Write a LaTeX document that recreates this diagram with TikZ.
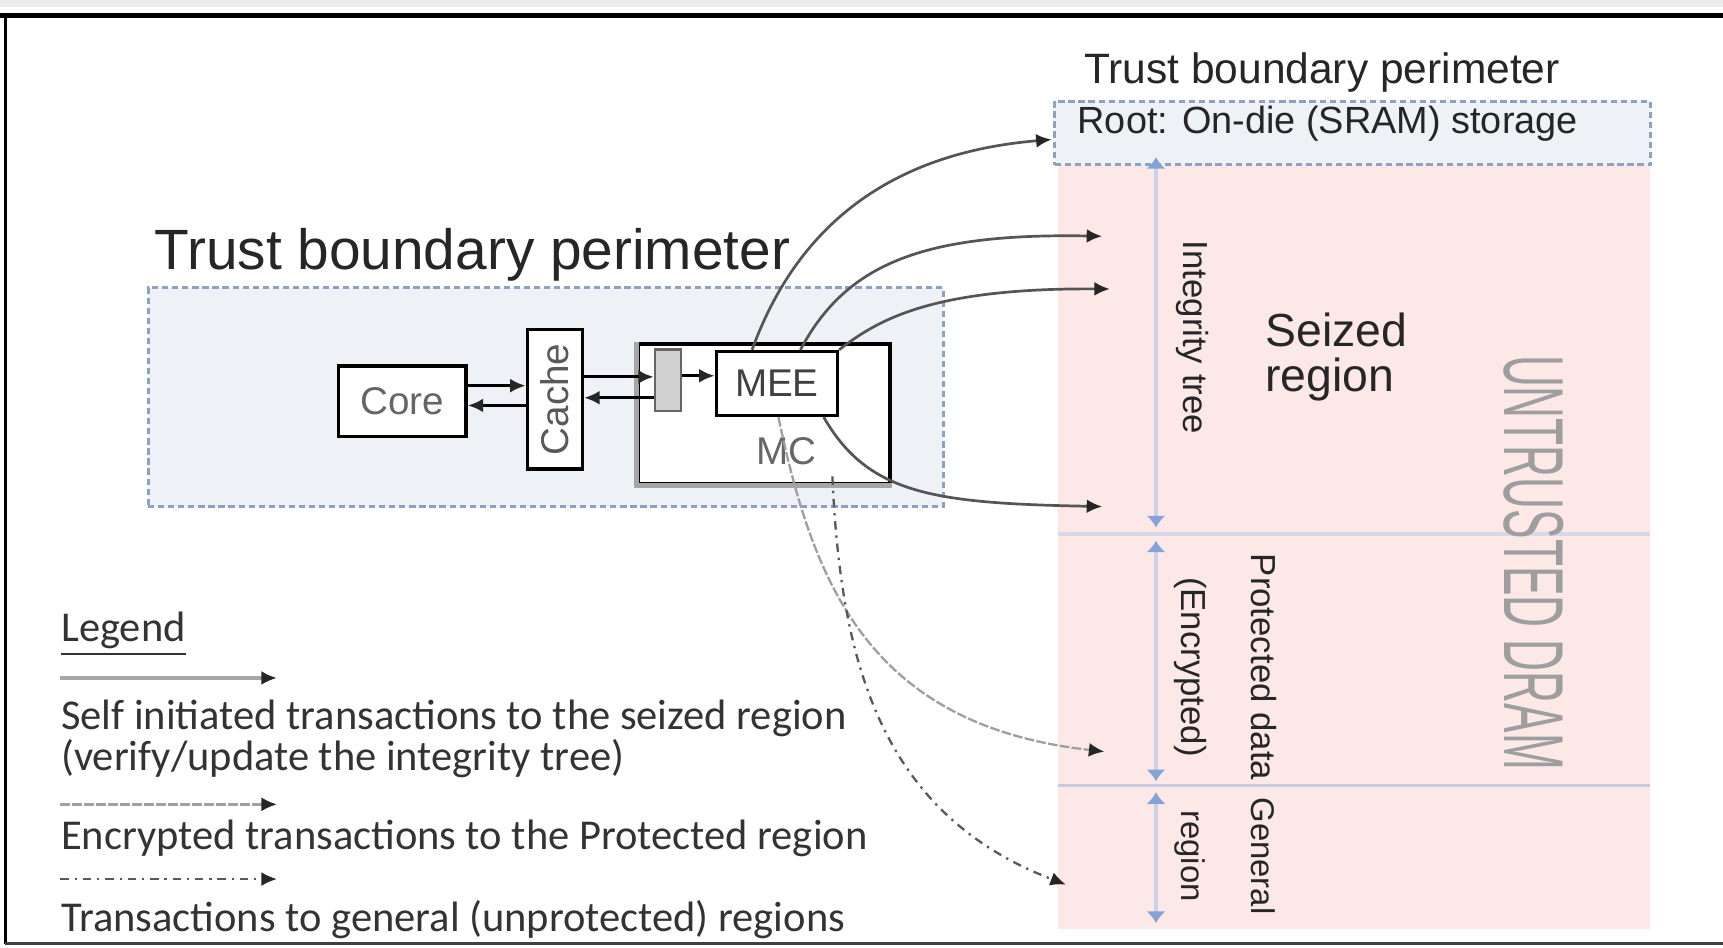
\documentclass[tikz,border=0pt]{standalone}
\usepackage{fontspec}
\setmainfont{Liberation Sans}
\newfontfamily\legendfont{Carlito}
\usetikzlibrary{arrows.meta,calc}

\definecolor{trustfill}{HTML}{EEF2F7}
\definecolor{trustedge}{HTML}{8DA2C0}
\definecolor{dramfill}{HTML}{FDE8E8}
\definecolor{dimline}{HTML}{CBD1E6}
\definecolor{dimtip}{HTML}{85A3D6}
\definecolor{sepA}{HTML}{DAD8E6}
\definecolor{sepB}{HTML}{C4CAE0}
\definecolor{wire}{HTML}{555555}
\definecolor{legendtext}{HTML}{333333}

\tikzset{
  trustbox/.style={draw=trustedge, fill=trustfill, line width=0.8pt,
    dash pattern=on 1.6pt off 1pt, inner sep=0pt},
  unit/.style={draw=black, fill=white, line width=0.9pt, inner sep=0pt},
  unitlabel/.style={font=\fontsize{10}{12}\selectfont, inner sep=0pt},
  tipend/.style={-{Latex[length=4pt,width=3.6pt,color=black!85]}},
  busarrow/.style={tipend, draw=black, line width=0.8pt},
  selfarrow/.style={tipend, draw=wire, line width=0.7pt},
  encarrow/.style={tipend, draw=gray!75, line width=0.6pt, dash pattern=on 2.5pt off 0.6pt},
  genarrow/.style={tipend, draw=gray!70!black, line width=0.6pt,
    dash pattern=on 2.2pt off 1.5pt on 0.6pt off 1.5pt},
  legself/.style={tipend, draw=gray!70, line width=1.2pt},
  dimarrow/.style={draw=dimline, line width=0.8pt,
    {Latex[length=3pt,width=5pt,color=dimtip]}-{Latex[length=3pt,width=5pt,color=dimtip]}},
  regiontext/.style={font=\fontsize{9}{18}\selectfont, text=black!85, align=center, inner sep=0pt},
  smallregiontext/.style={font=\fontsize{8.5}{18}\selectfont, text=black!85, align=center, inner sep=0pt},
  legendline/.style={font=\legendfont\fontsize{11}{13}\selectfont, text=legendtext,
    anchor=west, inner sep=0pt},
}

\begin{document}
\begin{tikzpicture}[x=0.01cm, y=-0.01cm]
\useasboundingbox (0,0) rectangle (1568,862);

% outer frame
\fill[gray!15] (0,0) rectangle (1568,6);
\draw[line width=1.4pt] (0,14) -- (1568,14);
\draw[line width=0.9pt] (5,14) -- (5,859);
\draw[line width=0.8pt, black!75] (5,859) -- (1568,859);

% ---------- on-chip trust boundary ----------
\node[anchor=west, inner sep=0pt, font=\fontsize{14.7}{16}\selectfont, text=black!85]
  (titleleft) at (140,232) {Trust boundary perimeter};
\node[trustbox, minimum width=7.23cm, minimum height=1.99cm] (tbox) at (496.5,361.5) {};

\node[unit, minimum width=1.16cm, minimum height=0.64cm] (core) at (366,365) {};
\node[unitlabel, text=black!60] (corelabel) at (core.center) {Core};

\node[unit, minimum width=0.5cm, minimum height=1.27cm] (cache) at (505,363.5) {};
\node[unitlabel, text=black!65, rotate=90] (cachelabel) at (cache.center) {Cache};

\node[unit, minimum width=2.29cm, minimum height=1.27cm] (mc) at (695.5,376.5) {};
\draw[gray!70, line width=1.3pt] (mc.north west) -- (mc.south west) -- (mc.south east);
\node[unitlabel, text=black!60] (mclabel) at (716,411) {MC};

\node[draw=black!60, fill=gray!35, line width=0.6pt, inner sep=0pt,
  minimum width=0.24cm, minimum height=0.56cm] (port) at (608,346) {};

\node[unit, minimum width=1.10cm, minimum height=0.58cm] (mee) at (707,349) {};
\node[unitlabel, text=black!75] (meelabel) at (mee.center) {MEE};

% core <-> cache <-> memory controller
\draw[busarrow] ($(core.east)+(0,-14)$) -- ($(cache.west)+(0,-12.5)$);
\draw[busarrow] ($(cache.west)+(0,5.5)$) -- ($(core.east)+(0,4)$);
\draw[busarrow] ($(cache.east)+(0,-20.5)$) -- ($(port.west)+(0,-3)$);
\draw[busarrow] ($(port.west)+(0,16)$) -- ($(cache.east)+(0,-1.5)$);
\draw[busarrow] ($(port.east)+(0,-4)$) -- ($(mee.west)+(0,-7)$);

% ---------- off-chip memory ----------
\node[anchor=center, inner sep=0pt, font=\fontsize{11}{13}\selectfont, text=black!85]
  (titleright) at (1203,66) {Trust boundary perimeter};

\fill[dramfill] (963,150) rectangle (1502,845);
\node[trustbox, minimum width=5.42cm, minimum height=0.58cm] (root) at (1231,121) {};
\node[anchor=west, inner sep=0pt, font=\fontsize{9.8}{12}\selectfont, text=black!85]
  (roottext) at (980,113) {Root: On-die (SRAM) storage};

\draw[sepA, line width=0.9pt] (963,486) -- (1502,486);
\draw[sepB, line width=0.9pt] (963,715) -- (1502,715);

\coordinate (d0) at (1052,143);
\coordinate (d1) at (1052,480);
\coordinate (d2) at (1052,492);
\coordinate (d3) at (1052,711);
\coordinate (d4) at (1052,721);
\coordinate (d5) at (1052,840);
\draw[dimarrow] (d0) -- (d1);
\draw[dimarrow] (d2) -- (d3);
\draw[dimarrow] (d4) -- (d5);

\node[regiontext, rotate=-90] (treetext) at (1085,307) {Integrity tree};
\node[anchor=west, align=left, inner sep=0pt, font=\fontsize{12}{11.5}\selectfont, text=black!85]
  (seized) at (1151,325) {Seized\\region};
\node[regiontext, rotate=-90] (prottext) at (1115,607) {Protected data\\(Encrypted)};
\node[smallregiontext, rotate=-90] (gentext) at (1115,779) {General\\region};
\node[rotate=-90, inner sep=0pt, font=\fontsize{22}{24}\selectfont, text=black!38]
  (untrusted) at (1396,512) {\scalebox{0.52}[1]{UNTRUSTED DRAM}};

% ---------- memory transactions ----------
\coordinate (t1) at (957,127);
\coordinate (t2) at (1003,215);
\coordinate (t3) at (1010,263);
\coordinate (t4) at (1003,461);
\coordinate (t5) at (1005,684);
\coordinate (t6) at (970,805);

\draw[selfarrow] ($(mee.north west)+(34,0)$) .. controls (722,215) and (800,140) .. (t1);
\draw[selfarrow] ($(mee.north west)+(78,0)$) .. controls (770,240) and (840,212) .. (t2);
\draw[selfarrow] (mee.north east) .. controls (800,290) and (850,262) .. (t3);
\draw[selfarrow] ($(mee.south east)+(-14,0)$) .. controls (790,450) and (850,458) .. (t4);
\draw[encarrow] ($(mee.south west)+(58,0)$) .. controls (740,530) and (790,660) .. (t5);
\draw[genarrow] ($(mc.south)+(62,-8)$) .. controls (765,600) and (800,740) .. (t6);

% ---------- legend ----------
\node[legendline] (legendhead) at (55,577) {\underline{Legend}};

\coordinate (la1) at (55,617);  \coordinate (lb1) at (252,617);
\coordinate (la2) at (55,732);  \coordinate (lb2) at (252,732);
\coordinate (la3) at (55,800);  \coordinate (lb3) at (252,800);
\draw[legself] (la1) -- (lb1);
\draw[encarrow] (la2) -- (lb2);
\draw[genarrow] (la3) -- (lb3);

\node[legendline] (legself1) at (55,654) {Self initiated transactions to the seized region};
\node[legendline] (legself2) at (55,690) {(verify/update the integrity tree)};
\node[legendline] (legenc) at (55,763) {Encrypted transactions to the Protected region};
\node[legendline] (leggen) at (55,837) {Transactions to general (unprotected) regions};
\end{tikzpicture}
\end{document}
